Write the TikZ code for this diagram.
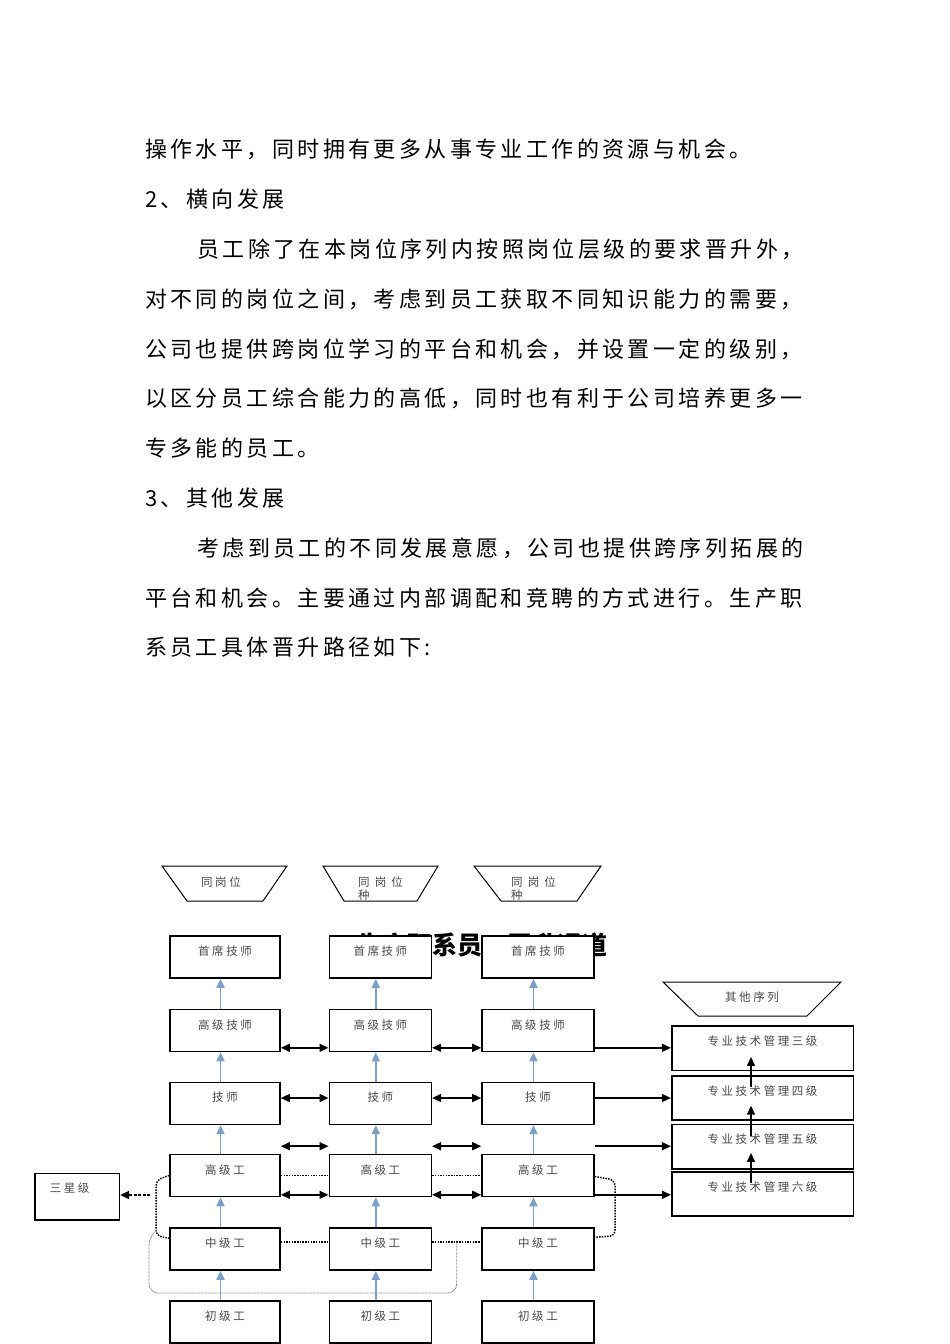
\documentclass[tikz,border=0pt]{standalone}
\usepackage{fontspec}
\setmainfont{Noto Sans CJK SC}
\newfontfamily\bodyf[LetterSpace=15.5]{Noto Sans CJK SC}
\newfontfamily\dgf[LetterSpace=22]{Noto Sans CJK SC}
\usetikzlibrary{calc,arrows.meta}
\definecolor{blu}{HTML}{7BA0C8}
\definecolor{txtg}{HTML}{484848}
\begin{document}
\begin{tikzpicture}[x=1pt,y=-1pt,
  bline/.style={inner sep=0pt, anchor=west, font=\bodyf\fontsize{22pt}{22pt}\selectfont},
  dgtext/.style={inner sep=0pt, text=txtg, font=\dgf\fontsize{11.5pt}{12pt}\selectfont},
  box/.style={draw, line width=1.6pt, fill=white, minimum width=#1, inner xsep=0pt, inner ysep=0pt,
    text height=19.5pt, text depth=22.5pt, text=txtg, font=\dgf\fontsize{11.5pt}{12pt}\selectfont},
  sbox/.style={box=181.6pt, text depth=25pt},
  trap/.style={draw, line width=1pt},
  barr/.style={draw=blu, line width=1.8pt, -{Triangle[length=9pt,width=8pt]}},
  sarr/.style={line width=1.5pt, -{Triangle[length=9pt,width=8pt]}},
  darr/.style={line width=1.5pt, {Triangle[length=9pt,width=8pt]}-{Triangle[length=9pt,width=8pt]}},
  dotln/.style={line width=1.5pt, dash pattern=on 1.5pt off 1.2pt},
  thinln/.style={line width=0.8pt, gray, dash pattern=on 0.8pt off 0.6pt},
  dsharr/.style={line width=1.6pt, dash pattern=on 3pt off 1.5pt, -{Triangle[length=9pt,width=8pt]}}
]
\useasboundingbox (0,0) rectangle (950,1344);
\clip (0,0) rectangle (950,1344);
\fill[white] (0,0) rectangle (950,1344);

% body text
\node[bline] (l1) at (145,149) {操作水平，同时拥有更多从事专业工作的资源与机会。};
\node[bline] (l2) at (145,199) {2、横向发展};
\node[bline] (l3) at (197,249) {员工除了在本岗位序列内按照岗位层级的要求晋升外，};
\node[bline] (l4) at (145,299) {对不同的岗位之间，考虑到员工获取不同知识能力的需要，};
\node[bline] (l5) at (145,349) {公司也提供跨岗位学习的平台和机会，并设置一定的级别，};
\node[bline] (l6) at (145,398) {以区分员工综合能力的高低，同时也有利于公司培养更多一};
\node[bline] (l7) at (145,448) {专多能的员工。};
\node[bline] (l8) at (145,498) {3、其他发展};
\node[bline] (l9) at (197,548) {考虑到员工的不同发展意愿，公司也提供跨序列拓展的};
\node[bline] (l10) at (145,598) {平台和机会。主要通过内部调配和竞聘的方式进行。生产职};
\node[bline] (l11) at (145,647) {系员工具体晋升路径如下:};

% title (partly hidden behind boxes)
\node[inner sep=0pt, font=\bfseries\fontsize{25pt}{25pt}\selectfont] (title) at (482,945) {生产职系员工晋升通道};

% trapezoids
\draw[trap] (162,866) -- (287,866) -- (263,901) -- (187,901) -- cycle;
\node[dgtext] (t1) at (221,882) {同岗位};
\draw[trap] (323,866) -- (438,866) -- (417,901) -- (344,901) -- cycle;
\node[dgtext, anchor=west] (t2a) at (358,882) {同 岗 位};
\node[dgtext, anchor=west] (t2b) at (358,895) {种};
\draw[trap] (474,866) -- (601,866) -- (577,901) -- (501,901) -- cycle;
\node[dgtext, anchor=west] (t3a) at (511,882) {同 岗 位};
\node[dgtext, anchor=west] (t3b) at (511,895) {种};
\draw[trap] (663,982) -- (841,982) -- (807,1016) -- (698,1016) -- cycle;
\node[dgtext] (t4) at (752,997) {其他序列};

% main boxes
\foreach \cx/\w/\c in {225/110/1, 380.3/102/2, 538/112/3}{
  \foreach \cy/\r/\t in {957/1/首席技师, 1030.5/2/高级技师, 1103.3/3/技师, 1175.5/4/高级工, 1249/5/中级工, 1322/6/初级工}{
    \node[box=\w pt] (c\c r\r) at (\cx,\cy) {\t};
  }
}

% right boxes
\node[sbox] (s3) at (762.5,1048.3) {专业技术管理三级};
\node[sbox] (s4) at (762.5,1098) {专业技术管理四级};
\node[sbox] (s5) at (762.5,1146.7) {专业技术管理五级};
\node[sbox] (s6) at (762.5,1194) {专业技术管理六级};

% three star box
\node[box=84.3pt, text depth=27.2pt] (sx) at (77.2,1196.7) {三星级\kern15pt};

% blue promotion arrows
\foreach \c in {1,2,3}{
  \foreach \r/\u in {2/1,3/2,4/3,5/4,6/5}{
    \draw[barr] ([xshift=-4.5pt]c\c r\r.north) -- ([xshift=-4.5pt]c\c r\u.south);
  }
}

% horizontal double arrows and dotted links
\foreach \a/\b in {1/2,2/3}{
  \draw[darr] ($(c\a r2.south east)+(0,-4.5)$) -- ($(c\b r2.south west)+(0,-4.5)$);
  \draw[darr] ([yshift=5.3pt]c\a r3.east) -- ([yshift=5.3pt]c\b r3.west);
  \draw[darr] ($(c\a r4.north east)+(0,-7.5)$) -- ($(c\b r4.north west)+(0,-7.5)$);
  \draw[darr] ($(c\a r4.south east)+(0,-2.5)$) -- ($(c\b r4.south west)+(0,-2.5)$);
  \draw[dotln] (c\a r4.east) -- (c\b r4.west);
  \draw[dotln] ([yshift=7pt]c\a r5.east) -- ([yshift=7pt]c\b r5.west);
}

% arrows to other sequence
\coordinate (h1) at ($(c3r2.south east)+(0,-4.5)$);
\coordinate (h2) at ([yshift=5.3pt]c3r3.east);
\coordinate (h3) at ($(c3r4.north east)+(0,-7.5)$);
\coordinate (h4) at ($(c3r4.south east)+(0,-2.5)$);
\draw[sarr] (h1) -- (h1 -| s3.west);
\draw[sarr] (h2) -- (h2 -| s4.west);
\draw[sarr] (h3) -- (h3 -| s5.west);
\draw[sarr] (h4) -- (h4 -| s6.west);

% arrows inside other sequence
\foreach \lo in {s6,s5,s4}{
  \draw[sarr] ($(\lo.north)+(-11.5,12)$) -- ($(\lo.north)+(-11.5,-18)$);
}

% dotted brackets
\draw[dotln, rounded corners=6pt] (c1r4.west) -- (156,1180) -- (156,1236) -- ([yshift=-11pt]c1r5.north west);
\draw[dotln, rounded corners=6pt] ([yshift=-1pt]c3r4.east) -- (615,1180) -- (615,1236) -- ([yshift=-10pt]c3r5.north east);

% thin long dotted path
\coordinate (mj) at ($([yshift=7pt]c2r5.east)!0.5!([yshift=7pt]c3r5.west)$);
\draw[thinln, rounded corners=9pt] (mj) -- (mj |- 0,1293) -- (149,1293) -- (149,1236) -- (157,1230);

% dashed arrow to three star
\coordinate (dsa) at (150,1195);
\draw[dsharr] (dsa) -- (dsa -| sx.east);
\end{tikzpicture}
\end{document}
